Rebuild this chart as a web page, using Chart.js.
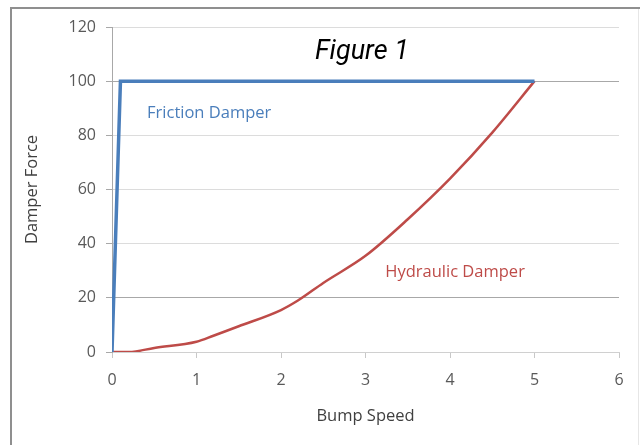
<!DOCTYPE html>
<html>
<head>
<meta charset="utf-8">
<script src="https://cdn.jsdelivr.net/npm/chart.js@4"></script>
<style>
html,body{margin:0;padding:0;background:#fff;}
#wrap{width:640px;height:445px;position:relative;}
</style>
</head>
<body>
<div id="wrap"><canvas id="c" width="640" height="445"></canvas></div>
<script>
// Data
const frictionX = [0, 0.1, 5];
const frictionY = [0, 100, 100];
const hydraulicX = [0, 0.2, 0.5, 1, 1.2, 1.5, 2, 2.2, 2.5, 3, 3.5, 4, 4.5, 5];
const hydraulicY = [0, 0, 1.5, 3.8, 6, 9.5, 15.5, 19, 25.5, 35.5, 49, 64, 81, 100];
const xTicks = [0, 1, 2, 3, 4, 5, 6];
const yTicks = [0, 20, 40, 60, 80, 100, 120];
const chartTitle = 'Figure 1';
const xTitle = 'Bump Speed';
const yTitle = 'Damper Force';
const seriesLabels = ['Friction Damper', 'Hydraulic Damper'];
const labelPos = [[1.15, 88.3], [4.06, 29.5]];

const toPts = (xs, ys) => xs.map((x, i) => ({x: x, y: ys[i]}));
const blue = '#4a7ebb';
const red = '#be4b48';

const decor = {
  id: 'decor',
  beforeDraw(chart) {
    const ctx = chart.ctx;
    ctx.save();
    ctx.fillStyle = '#fff';
    ctx.fillRect(0, 0, chart.width, chart.height);
    ctx.strokeStyle = '#8f8f8f';
    ctx.lineWidth = 2;
    ctx.beginPath();
    ctx.moveTo(10, 8); ctx.lineTo(640, 8);
    ctx.moveTo(11, 8); ctx.lineTo(11, 445);
    ctx.stroke();
    ctx.strokeStyle = '#e6e6e6';
    ctx.lineWidth = 1;
    ctx.beginPath();
    ctx.moveTo(638.5, 9); ctx.lineTo(638.5, 445);
    ctx.stroke();
    ctx.restore();
  },
  afterDatasetsDraw(chart) {
    const ctx = chart.ctx;
    const xs = chart.scales.x, ys = chart.scales.y;
    ctx.save();
    ctx.textAlign = 'center';
    ctx.textBaseline = 'middle';
    ctx.fillStyle = '#000';
    ctx.font = 'italic 27px Roboto';
    ctx.fillText(chartTitle, 362, 52);
    ctx.font = '16.5px "Open Sans"';
    const cols = [blue, red];
    seriesLabels.forEach((t, i) => {
      ctx.fillStyle = cols[i];
      ctx.fillText(t, xs.getPixelForValue(labelPos[i][0]), ys.getPixelForValue(labelPos[i][1]));
    });
    ctx.restore();
  }
};

new Chart(document.getElementById('c'), {
  type: 'scatter',
  data: {
    datasets: [
      {label: seriesLabels[0], data: toPts(frictionX, frictionY), showLine: true, borderColor: blue, borderWidth: 3.5, pointRadius: 0, tension: 0, borderJoinStyle: 'miter'},
      {label: seriesLabels[1], data: toPts(hydraulicX, hydraulicY), showLine: true, borderColor: red, borderWidth: 2.5, pointRadius: 0, cubicInterpolationMode: 'monotone'}
    ]
  },
  options: {
    responsive: false,
    animation: false,
    devicePixelRatio: 1,
    layout: {padding: {left: 20, top: 27, right: 21, bottom: 0}},
    plugins: {legend: {display: false}, tooltip: {enabled: false}, title: {display: false}},
    scales: {
      x: {
        type: 'linear', min: 0, max: 6,
        afterBuildTicks: s => { s.ticks = xTicks.map(v => ({value: v})); },
        afterFit: s => { s.height = 93; },
        grid: {drawOnChartArea: false, drawTicks: true, tickLength: 6, tickColor: '#c8c8c8'},
        border: {color: '#d0d0d0', width: 1},
        ticks: {color: '#595959', font: {family: '"Open Sans"', size: 16}, padding: 13, maxRotation: 0},
        title: {display: true, text: xTitle, color: '#404040', font: {family: '"Open Sans"', size: 16.5}, padding: {top: 18.6, bottom: 18.6}}
      },
      y: {
        type: 'linear', min: 0, max: 120,
        afterBuildTicks: s => { s.ticks = yTicks.map(v => ({value: v})); },
        afterFit: s => { s.width = 92; },
        grid: {
          color: c => (c.tick && (c.tick.value === 20 || c.tick.value === 100)) ? '#a8a8a8' : '#dcdcdc',
          lineWidth: 1, tickLength: 6, tickColor: '#a8a8a8', drawTicks: true
        },
        border: {color: '#a8a8a8', width: 1},
        ticks: {color: '#595959', font: {family: '"Open Sans"', size: 16}, padding: 10},
        title: {display: true, text: yTitle, color: '#404040', font: {family: '"Open Sans"', size: 16.5}, padding: {top: 2, bottom: 2}}
      }
    }
  },
  plugins: [decor]
});
</script>
</body>
</html>
